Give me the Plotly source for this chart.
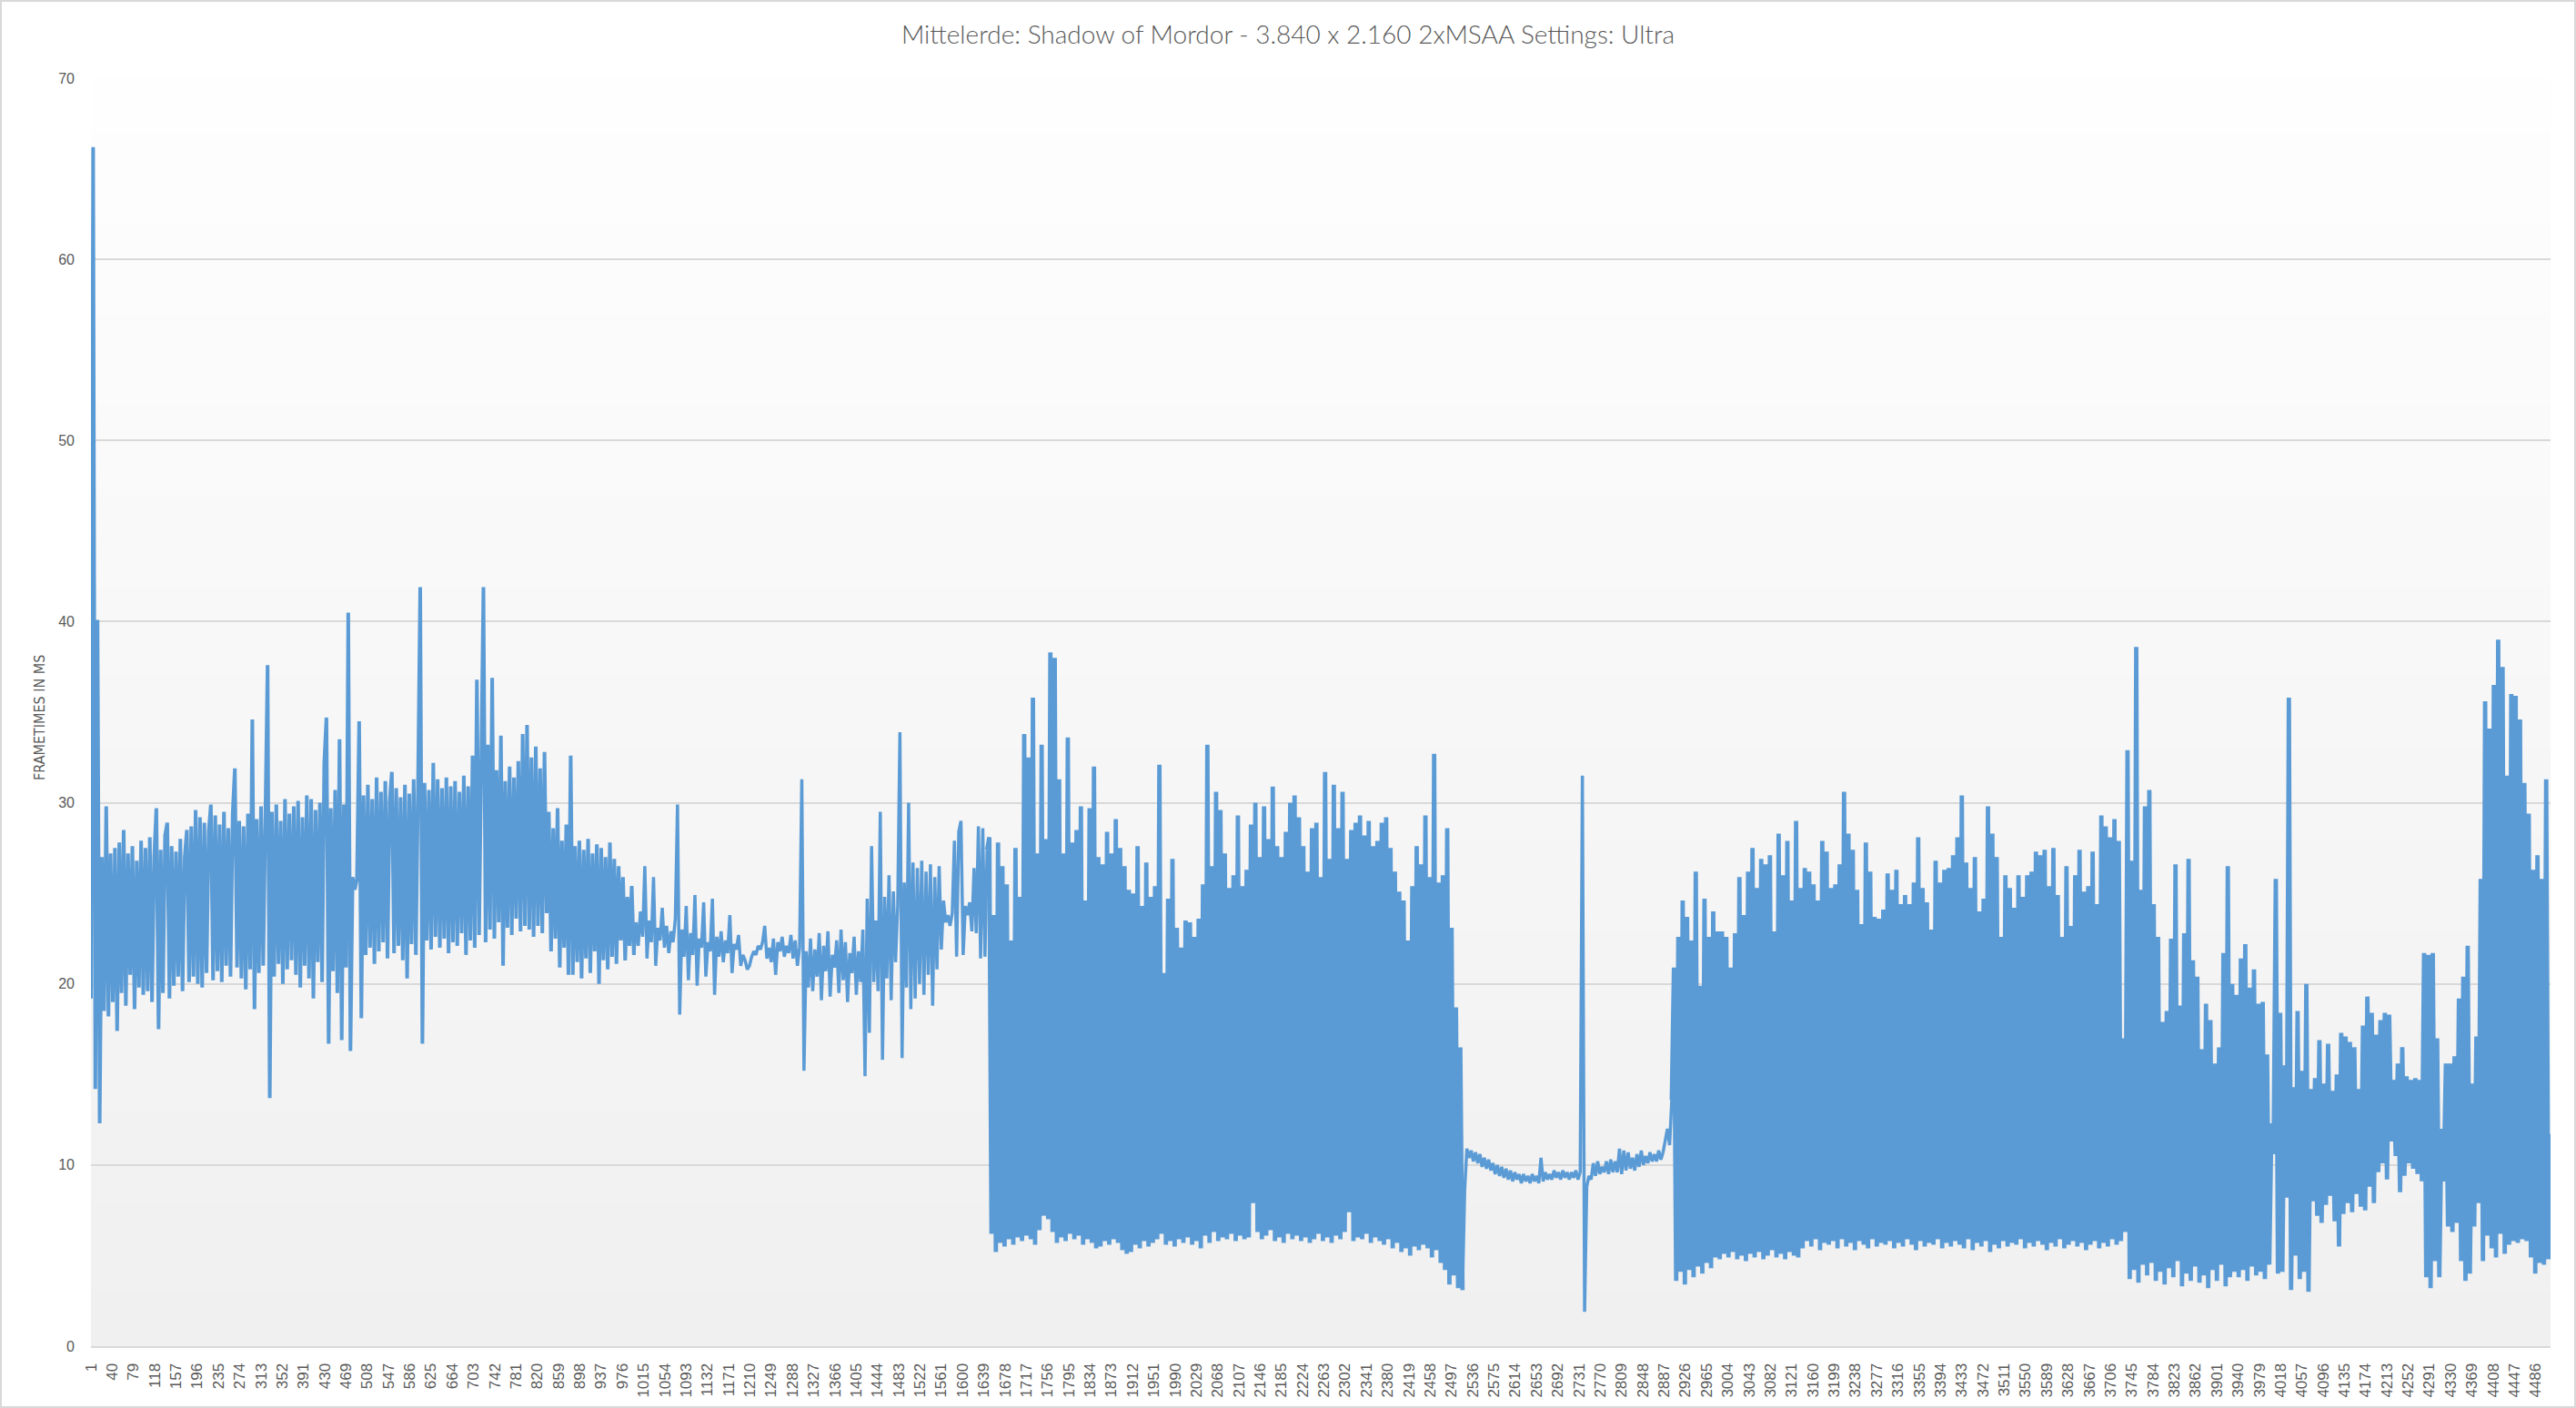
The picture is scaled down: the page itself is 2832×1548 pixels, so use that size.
import plotly.graph_objects as go

# ---- frametime values (ms), one value every 4th frame ----
seg_start = [19.2, 66.2, 14.2, 40.1, 12.3, 27.0, 18.5, 29.8, 18.2, 27.2, 19.0, 27.5, 17.4, 27.8, 19.5,
             28.5, 18.8, 27.2, 20.5, 27.6, 18.6, 26.8, 19.8, 27.9, 19.4]

seg_a1 = [27.5, 19.6, 28.1, 19.0, 27.0, 29.7, 17.5, 27.4, 19.5, 28.2,
          28.9, 19.2, 27.6, 19.9, 27.3, 20.4, 28.0, 19.6, 27.0, 28.5,
          20.1, 28.7, 20.4, 29.6, 20.0, 29.2, 19.8, 28.9, 20.6, 28.4,
          29.9, 20.2, 29.3, 20.7, 28.8, 20.1, 29.5, 21.0, 28.6, 20.4,
          29.4, 31.9, 20.9, 29.0, 20.3, 28.7, 19.7, 29.4, 20.8, 34.6]

seg_a2 = [18.6, 29.1, 20.6, 29.8, 21.0, 29.3, 37.6, 13.7, 29.5, 20.4,
          29.9, 21.1, 29.0, 20.0, 30.2, 20.8, 29.4, 21.3, 29.8, 20.5,
          30.1, 19.8, 29.2, 21.0, 30.4, 20.3, 30.2, 19.2, 29.6, 21.2,
          30.0, 20.1, 32.2, 34.7, 16.7, 29.7, 20.7, 30.7, 19.5, 33.5,
          16.9, 29.9, 20.9, 40.5, 16.3, 25.9, 25.2, 25.8, 34.5, 18.1]

seg_a3 = [30.4, 21.6, 31.0, 22.0, 30.2, 21.1, 31.4, 21.8, 30.6, 22.3,
          31.2, 21.4, 30.1, 31.7, 21.7, 30.8, 22.1, 30.3, 21.3, 31.0,
          20.3, 30.5, 22.2, 31.3, 21.6, 30.9, 41.9, 16.7, 31.1, 22.4,
          30.7, 21.9, 32.2, 22.6, 31.3, 22.0, 30.8, 22.5, 31.4, 21.7,
          30.9, 22.3, 31.2, 22.1, 30.6, 22.8, 31.5, 21.6, 30.9, 22.4,
          32.6, 22.0, 36.8, 22.7, 31.6, 41.9, 22.3, 33.2, 23.0, 36.9,
          22.5, 31.8, 23.4, 33.7, 21.0, 31.2, 23.1, 32.0, 22.7, 31.4,
          23.6, 32.3, 22.9, 33.8, 23.2]

seg_a4 = [34.3, 23.0, 32.5, 22.6, 33.1, 23.2, 31.9, 22.8, 32.8, 23.9,
          29.5, 21.8, 28.6, 22.5, 29.7, 20.9, 27.9, 22.0, 28.8, 20.5,
          32.6, 20.5, 27.6, 21.2, 27.9, 20.3, 27.4, 21.4, 28.0, 20.6,
          27.2, 21.8, 27.7, 20.0, 27.5, 21.3, 27.0, 20.8, 27.8, 21.5,
          26.9, 21.1, 26.5, 22.4, 25.9, 21.3, 24.8, 22.1, 25.4, 21.6]

seg_calm1 = [23.4, 22.1, 24.0, 22.6, 26.5, 21.4, 23.5, 22.3, 25.9, 21.0,
             23.1, 22.4, 24.2, 22.0, 23.2, 21.7, 22.9, 22.3, 23.6, 29.9,
             18.3, 23.0, 21.5, 24.3, 20.2, 22.8, 21.6, 24.9, 19.9, 22.5,
             22.0, 24.5, 20.4, 22.3, 21.8, 24.7, 19.4, 22.6, 21.5, 22.9,
             21.2, 22.4, 21.7, 23.8, 20.6, 22.2, 21.9, 22.7, 21.0, 21.6,
             21.3, 20.8, 21.0, 21.5, 21.8, 21.6, 22.1, 21.9, 22.3, 23.2,
             21.4, 22.0, 21.2, 22.5, 20.5, 22.3, 21.8, 22.6, 21.5, 22.1,
             21.7, 22.7, 21.4, 22.4, 21.0, 22.0, 31.3, 15.2, 21.8, 19.8,
             22.5, 19.6, 21.9, 20.4, 22.8, 19.1, 22.1, 20.7, 22.9, 19.3,
             21.6, 20.9, 22.4, 19.5, 23.0, 20.2, 22.3, 19.0, 21.7, 20.6,
             22.6, 19.4, 21.8, 20.1, 23.0, 14.9, 24.7, 17.3]

seg_rise = [27.6, 20.1, 23.5, 19.6, 29.5, 15.8, 24.8, 20.3, 26.0, 19.1,
            25.1, 21.2, 24.3, 33.9, 15.9, 25.6, 19.8, 30.0, 18.6, 26.7,
            19.2, 26.4, 20.0, 26.8, 19.4, 26.2, 20.5, 26.6, 18.8, 25.9,
            20.8, 26.5, 21.9, 24.6, 23.4, 23.8, 23.2, 23.9, 27.9, 21.5,
            28.4, 29.0, 21.6, 24.3, 23.8, 24.5, 22.9, 26.4, 22.8, 28.7,
            21.4, 28.6, 21.5, 27.4]

seg_dense1 = [28.1, 6.2, 23.8, 5.2, 27.8, 5.7, 26.5, 5.5, 25.5, 5.9, 22.4, 5.6, 27.5, 6.0, 24.8, 5.8, 33.8, 6.1, 32.5, 5.9,
              35.8, 5.6, 27.2, 6.4, 33.2, 7.2, 28.0, 7.0, 38.3, 6.3, 38.0, 5.7, 31.3, 6.0, 27.2, 5.8, 33.6, 6.2, 27.8, 5.9,
              28.5, 6.1, 29.8, 5.6, 24.6, 5.9, 29.7, 5.7, 32.0, 5.4, 27.0, 5.5, 26.6, 5.8, 28.4, 5.6, 27.2, 5.9, 29.1, 5.7,
              27.5, 5.3, 26.5, 5.1, 25.2, 5.2, 25.0, 5.6, 27.6, 5.4, 24.3, 5.8, 26.7, 5.5, 24.8, 5.7, 25.4, 5.9, 32.1, 6.2,
              20.6, 5.6, 24.7, 5.8, 26.9, 5.5, 23.1, 5.9, 22.0, 5.7, 23.5, 6.0, 23.4, 5.6, 22.6, 5.8, 23.6, 5.4, 25.5, 6.1,
              33.2, 5.7, 26.5, 6.3, 30.6, 5.8, 29.6, 6.0, 27.2, 5.9, 25.3, 6.2, 26.0, 5.8, 29.3, 6.1, 25.4, 5.9, 26.3, 6.0,
              28.8, 7.9, 30.0, 6.3, 27.0, 5.9, 29.8, 6.1, 28.0, 6.4, 30.9, 5.8, 27.6, 6.0, 27.0, 5.7, 28.4, 6.2, 30.0, 5.9,
              30.4, 6.1, 29.2, 5.8, 27.6, 6.0, 26.2, 5.7, 28.6, 5.9, 28.9, 6.2, 25.9, 5.8, 31.7, 6.0, 26.9, 5.7, 31.0, 6.1,
              28.6, 5.9, 30.6, 6.3, 26.9, 7.4, 28.5, 5.8, 28.9, 6.0, 29.3, 5.9, 28.2, 6.2, 29.0, 5.7, 27.6, 6.0, 27.9, 5.8,
              28.9, 5.6, 29.2, 5.9, 27.5, 5.4, 26.2, 5.7, 25.1, 5.2, 24.6, 5.4, 22.4, 5.0, 25.4, 5.5, 27.6, 5.3, 26.6, 5.6,
              29.3, 5.4, 25.9, 4.9, 32.7, 5.3, 25.6, 4.6, 26.0, 4.2, 28.6, 3.4, 23.1, 3.9, 18.7, 3.2, 16.5, 3.1]

seg_calm2 = [8.6, 10.9, 10.4, 10.8, 10.2, 10.7, 10.1, 10.6, 9.9, 10.4,
             9.8, 10.3, 9.7, 10.1, 9.5, 10.0, 9.4, 9.9, 9.3, 9.8,
             9.2, 9.7, 9.1, 9.6, 9.2, 9.5, 9.0, 9.5, 9.1, 9.4,
             9.0, 9.5, 9.1, 9.4, 9.0, 10.4, 9.1, 9.6, 9.2, 9.5,
             9.2, 9.7, 9.3, 9.6, 9.2, 9.7, 9.3, 9.6, 9.2, 9.6,
             9.3, 9.7, 9.2, 9.6, 31.5, 1.9, 8.8, 9.4, 9.2, 10.1,
             9.4, 10.2, 9.5, 9.9, 9.6, 10.2, 9.5, 10.3, 9.6, 10.2,
             9.6, 10.9, 9.5, 10.8, 9.7, 10.7, 9.8, 10.4, 9.7, 10.6,
             9.9, 10.8, 10.0, 10.5, 10.1, 10.7, 10.2, 10.6, 10.2, 10.8,
             10.3, 10.7, 11.4, 12.0, 11.1, 13.6]

seg_dense2 = [20.9, 3.6, 22.6, 4.1, 24.6, 3.4, 23.7, 4.2, 22.4, 3.8, 26.2, 4.4, 19.9, 4.0, 24.7, 4.6, 22.6, 4.3, 24.0, 4.9,
              22.9, 4.8, 22.9, 5.1, 22.6, 4.9, 20.9, 5.2, 22.8, 4.8, 25.9, 5.0, 23.8, 4.7, 26.2, 5.1, 27.5, 4.9, 25.3, 5.2,
              26.9, 4.8, 26.6, 5.0, 27.1, 5.3, 22.9, 4.9, 28.3, 5.1, 26.0, 4.8, 27.9, 5.2, 24.6, 5.0, 29.0, 4.9,
              25.3, 5.4, 26.4, 5.8, 26.2, 5.5, 25.5, 5.9, 24.6, 5.3, 27.9, 5.7, 27.3, 5.6, 25.3, 5.8, 25.5, 5.4, 26.6, 5.9,
              30.6, 5.5, 28.3, 5.7, 27.4, 5.3, 25.2, 5.8, 23.3, 5.6, 27.8, 5.4, 26.2, 5.9, 23.7, 5.5, 23.6, 5.7, 24.1, 5.6,
              26.1, 5.8, 25.2, 5.4, 26.3, 5.7, 24.4, 5.5, 24.9, 5.9, 24.4, 5.6, 25.6, 5.3, 28.1, 5.8, 25.3, 5.5, 24.5, 5.7,
              23.0, 5.6, 26.8, 5.9, 25.6, 5.4, 26.3, 5.7, 26.4, 5.5, 27.1, 5.8, 28.1, 5.6, 30.4, 5.4, 26.7, 5.9, 25.3, 5.3,
              27.0, 5.7, 24.0, 5.5, 24.7, 5.8, 29.8, 5.2, 28.3, 5.6, 27.0, 5.4, 22.6, 5.8, 26.0, 5.5, 25.3, 5.7, 24.2, 5.6,
              26.0, 5.9, 24.8, 5.4, 26.0, 5.7, 26.2, 5.5, 27.3, 5.8, 27.1, 5.6, 27.4, 5.3, 25.4, 5.7, 27.5, 5.5, 24.9, 5.9,
              22.6, 5.4, 26.5, 5.6, 23.2, 5.8, 26.0, 5.5, 27.4, 5.7, 25.1, 5.3, 25.4, 5.6, 27.3, 5.8, 24.4, 5.4, 29.3, 5.7,
              28.7, 5.5, 28.1, 5.9, 29.1, 5.6, 27.9, 5.8, 17.0, 6.3, 32.9, 3.7, 26.8, 4.2, 38.6, 3.5, 25.2, 4.5, 29.8, 3.9,
              30.7, 4.6, 24.4, 3.6, 22.6, 4.1, 17.9, 3.4, 18.5, 4.3, 22.5, 3.8, 26.6, 4.7, 18.8, 3.3, 22.8, 4.0, 26.9, 3.6,
              21.3, 4.4, 20.4, 3.5, 16.4, 3.9, 18.9, 3.2, 18.0, 4.2, 15.6, 3.6, 16.5, 4.5, 21.7, 3.3, 26.5, 3.8, 20.0, 4.1]

seg_tail = [19.4, 3.8, 21.4, 4.2, 22.2, 3.6, 19.8, 4.4, 20.8, 3.9, 18.9, 4.1, 19.0, 3.7, 16.1, 4.5, 12.3, 10.6, 25.8, 4.0,
            18.4, 4.1, 15.5, 8.2, 35.8, 3.1, 14.3, 5.0, 18.5, 3.7, 15.2, 4.1, 20.0, 3.0, 14.2, 8.0, 14.8, 7.2, 16.9, 6.8,
            14.5, 7.8, 16.7, 8.3, 14.1, 6.9, 15.0, 5.5, 17.3, 7.3, 17.1, 7.9, 16.8, 7.4, 16.5, 8.4, 14.2, 7.7, 17.7, 7.5,
            19.3, 8.8, 18.4, 7.9, 17.2, 9.6, 18.0, 10.1, 18.4, 9.2, 18.3, 11.3, 14.7, 10.5, 15.6, 8.5, 16.5, 9.4, 14.9, 10.1,
            14.7, 9.8, 14.8, 9.5, 14.7, 9.1, 21.7, 3.8, 21.6, 3.2, 21.7, 4.7, 17.0, 3.8, 12.0, 9.1, 15.6, 6.6, 15.6, 6.3,
            16.0, 6.8, 19.2, 4.7, 20.4, 3.6, 22.1, 4.0, 14.5, 6.6, 17.1, 7.9, 25.8, 4.7, 35.6, 6.1, 34.1, 5.4, 36.5, 4.9,
            39.0, 6.2, 37.5, 5.1, 31.5, 5.6, 36.0, 5.8, 35.9, 5.7, 34.6, 5.9, 31.1, 5.8, 29.4, 4.9, 26.3, 4.0, 27.1, 4.6,
            25.8, 4.5, 31.3, 4.8, 11.7]

# (segment, stroke width): the densely alternating parts get a slightly wider stroke so they read as a solid band
segments = [
    (seg_start + seg_a1 + seg_a2 + seg_a3 + seg_a4, 4.0),
    (seg_calm1 + seg_rise, 3.5),
    (seg_dense1, 4.8),
    (seg_calm2, 3.5),
    (seg_dense2 + seg_tail, 4.8),
]

frametimes = [v for seg, _ in segments for v in seg]
frame_step = 4
frames = [1 + frame_step * k for k in range(len(frametimes))]

# category labels shown on the x axis (every 39th frame)
tick_frames = list(range(1, 4487, 39))
tick_text = [str(v) for v in tick_frames]
y_ticks = [0, 10, 20, 30, 40, 50, 60, 70]

title_text = "Mittelerde: Shadow of Mordor - 3.840 x 2.160 2xMSAA Settings: Ultra"
y_title = "FRAMETIMES IN MS"

W, H = 2832, 1548
ML, MR, MT, MB = 100, 28, 86, 68
PW, PH = W - ML - MR, H - MT - MB

fig = go.Figure()
start = 0
for seg, width in segments:
    a = max(start - 1, 0)
    b = start + len(seg)
    fig.add_trace(go.Scatter(
        x=frames[a:b], y=frametimes[a:b], mode="lines",
        line=dict(color="#5b9bd5", width=width),
        hoverinfo="skip", showlegend=False,
    ))
    start = b

# vertical gradient of the plot area (white at top -> light grey at bottom)
shapes = []
n_bands = 70
for j in range(n_bands):
    t = j / (n_bands - 1)
    c = int(round(240 + (254 - 240) * t))
    shapes.append(dict(type="rect", xref="paper", yref="y", x0=0, x1=1,
                       y0=j, y1=min(j + 1.05, 70),
                       fillcolor=f"rgb({c},{c},{c})", line=dict(width=0), layer="below"))
# thin outer chart border
shapes.append(dict(type="rect", xref="paper", yref="paper",
                   x0=(1 - ML) / PW, x1=(W - 1 - ML) / PW,
                   y0=(H - MB - (H - 1)) / PH, y1=(H - MB - 1) / PH,
                   line=dict(color="#d9d9d9", width=2), fillcolor="rgba(0,0,0,0)", layer="above"))

tick_font_y = dict(family="Liberation Sans, Arial, sans-serif", size=16, color="#595959")
tick_font_x = dict(family="Liberation Sans, Arial, sans-serif", size=17, color="#595959")

fig.update_layout(
    width=W, height=H,
    margin=dict(l=ML, r=MR, t=MT, b=MB),
    paper_bgcolor="white", plot_bgcolor="rgba(0,0,0,0)",
    showlegend=False,
    shapes=shapes,
    title=dict(text=title_text, x=0.5, xanchor="center", xref="container",
               y=1 - 38 / H, yanchor="middle", yref="container",
               font=dict(family="Lato, Open Sans, sans-serif", size=28, color="#595959", weight=300)),
    xaxis=dict(range=[1, frames[-1]], tickmode="array", tickvals=tick_frames, ticktext=tick_text,
               tickangle=-90, showgrid=False, zeroline=False, showline=True,
               linecolor="#d9d9d9", linewidth=2, ticks="", tickfont=tick_font_x,
               ticklabelstandoff=10, fixedrange=True),
    yaxis=dict(range=[0, 70], tickmode="array", tickvals=y_ticks, showgrid=True,
               gridcolor="#d9d9d9", gridwidth=1.5, zeroline=False, showline=False,
               ticks="", tickfont=tick_font_y, ticklabelstandoff=17, fixedrange=True),
    annotations=[dict(text=y_title, xref="paper", yref="paper",
                      x=(43 - ML) / PW, y=(H - MB - 789) / PH, xanchor="center", yanchor="middle",
                      textangle=-90, showarrow=False,
                      font=dict(family="Liberation Sans Narrow, DejaVu Sans Condensed, sans-serif",
                                size=16, color="#595959"))],
)

fig.write_html("out.html", config={"displayModeBar": False},
               post_script="document.body.style.margin='0';document.body.style.overflow='hidden';")
